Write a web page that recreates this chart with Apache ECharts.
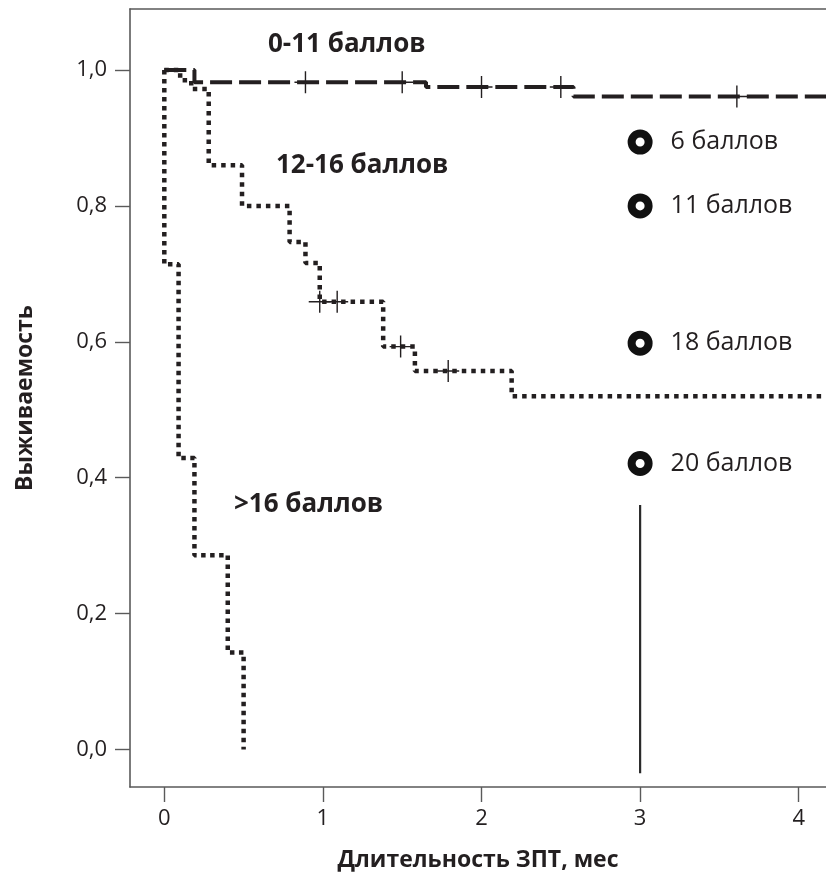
<!DOCTYPE html>
<html>
<head>
<meta charset="utf-8">
<script src="https://cdn.jsdelivr.net/npm/echarts@6/dist/echarts.min.js"></script>
<style>
  html, body { margin: 0; padding: 0; background: #fff; }
  #chart { width: 826px; height: 878px; }
</style>
</head>
<body>
<div id="chart"></div>
<script>
// Kaplan-Meier curves, time in months
const lowTimes = [0, 0.19, 1.65, 2.58, 4.3];
const lowSurv = [1.0, 0.982, 0.975, 0.961, 0.961];
const lowCensorTimes = [0.89, 1.5, 2.0, 2.5, 3.61];
const lowCensorSurv = [0.982, 0.982, 0.975, 0.975, 0.961];

const midTimes = [0, 0.1, 0.17, 0.28, 0.49, 0.79, 0.89, 0.98, 1.38, 1.58, 2.19, 4.3];
const midSurv = [1.0, 0.985, 0.972, 0.86, 0.80, 0.747, 0.716, 0.659, 0.593, 0.557, 0.52, 0.52];
const midCensorTimes = [0.98, 1.09, 1.49, 1.79];
const midCensorSurv = [0.659, 0.659, 0.593, 0.557];

const highTimes = [0, 0, 0.09, 0.19, 0.4, 0.5];
const highSurv = [1.0, 0.714, 0.429, 0.286, 0.143, 0.0];

// single patients at 3 months
const pointTime = 3;
const pointLabels = ["6 баллов", "11 баллов", "18 баллов", "20 баллов"];
const pointSurv = [0.894, 0.8, 0.598, 0.421];

const refLineTimes = [3, 3];
const refLineSurv = [0.36, -0.035];

const xTicks = [0, 1, 2, 3, 4];
const yTicks = [0, 0.2, 0.4, 0.6, 0.8, 1.0];

const ink = "#231f20";
const axisGray = "#5a5a5a";
const font = "Open Sans";

const zip = (xs, ys) => xs.map((x, i) => [x, ys[i]]);

const chart = echarts.init(document.getElementById("chart"));

const crossSymbol = "path://M0,10L20,10M10,0L10,20";

chart.setOption({
  animation: false,
  textStyle: { fontFamily: font, color: ink },
  grid: { left: 130, right: 0, top: 9, bottom: 91 },
  xAxis: [
    {
      type: "value",
      min: -0.2163,
      max: 4.172,
      splitLine: { show: false },
      axisLine: { onZero: false, lineStyle: { color: axisGray, width: 1.6 } },
      axisTick: { customValues: xTicks, length: 15, lineStyle: { color: axisGray, width: 1.4 } },
      axisLabel: { customValues: xTicks, margin: 21, fontSize: 22, color: ink, fontFamily: font },
      name: "Длительность ЗПТ, мес",
      nameLocation: "middle",
      nameGap: 62,
      nameTextStyle: { fontSize: 23, fontWeight: "bold", color: ink, fontFamily: font },
    },
    {
      type: "value",
      position: "top",
      min: -0.2163,
      max: 4.172,
      splitLine: { show: false },
      axisLine: { onZero: false, lineStyle: { color: axisGray, width: 1.6 } },
      axisTick: { show: false },
      axisLabel: { show: false },
    },
  ],
  yAxis: {
    type: "value",
    min: -0.0551,
    max: 1.0898,
    splitLine: { show: false },
    axisLine: { show: true, onZero: false, lineStyle: { color: axisGray, width: 1.6 } },
    axisTick: { show: true, customValues: yTicks, length: 15, lineStyle: { color: axisGray, width: 1.4 } },
    axisLabel: {
      customValues: yTicks,
      margin: 23,
      fontSize: 22,
      color: ink,
      fontFamily: font,
      formatter: (v) => v.toFixed(1).replace(".", ","),
    },
    name: "Выживаемость",
    nameLocation: "middle",
    nameGap: 93,
    nameTextStyle: { fontSize: 23, fontWeight: "bold", color: ink, fontFamily: font },
  },
  graphic: [
    { type: "text", x: 268, y: 45, style: { text: "0-11 баллов", font: "bold 26px 'Open Sans'", fill: ink, verticalAlign: "middle" } },
    { type: "text", x: 276, y: 166, style: { text: "12-16 баллов", font: "bold 26px 'Open Sans'", fill: ink, verticalAlign: "middle" } },
    { type: "text", x: 234, y: 505, style: { text: ">16 баллов", font: "bold 26px 'Open Sans'", fill: ink, verticalAlign: "middle" } },
  ],
  series: [
    {
      name: ">16 баллов",
      type: "line",
      step: "end",
      data: zip(highTimes, highSurv),
      showSymbol: false,
      lineStyle: { color: ink, width: 4.5, type: [4.5, 4.5] },
    },
    {
      name: "12-16 баллов",
      type: "line",
      step: "end",
      data: zip(midTimes, midSurv),
      showSymbol: false,
      lineStyle: { color: ink, width: 4.5, type: [4.5, 5] },
    },
    {
      name: "0-11 баллов",
      type: "line",
      step: "end",
      data: zip(lowTimes, lowSurv),
      showSymbol: false,
      lineStyle: { color: ink, width: 4, type: [22, 7] },
    },
    {
      type: "scatter",
      data: zip(lowCensorTimes, lowCensorSurv).concat(zip(midCensorTimes, midCensorSurv)),
      symbol: crossSymbol,
      symbolSize: 22,
      itemStyle: { color: "transparent", borderColor: ink, borderWidth: 1.4, opacity: 1 },
    },
    {
      type: "line",
      data: zip(refLineTimes, refLineSurv),
      showSymbol: false,
      lineStyle: { color: "#2a2a2a", width: 2.2 },
    },
    {
      type: "scatter",
      data: pointSurv.map((v, i) => ({ value: [pointTime, v], name: pointLabels[i] })),
      symbol: "circle",
      symbolSize: 17,
      itemStyle: { color: "#fff", borderColor: "#111", borderWidth: 8, opacity: 1 },
      label: {
        show: true,
        position: "right",
        distance: 18,
        formatter: (p) => p.name,
        fontSize: 25,
        color: ink,
        fontFamily: font,
      },
    },
  ],
});
</script>
</body>
</html>
